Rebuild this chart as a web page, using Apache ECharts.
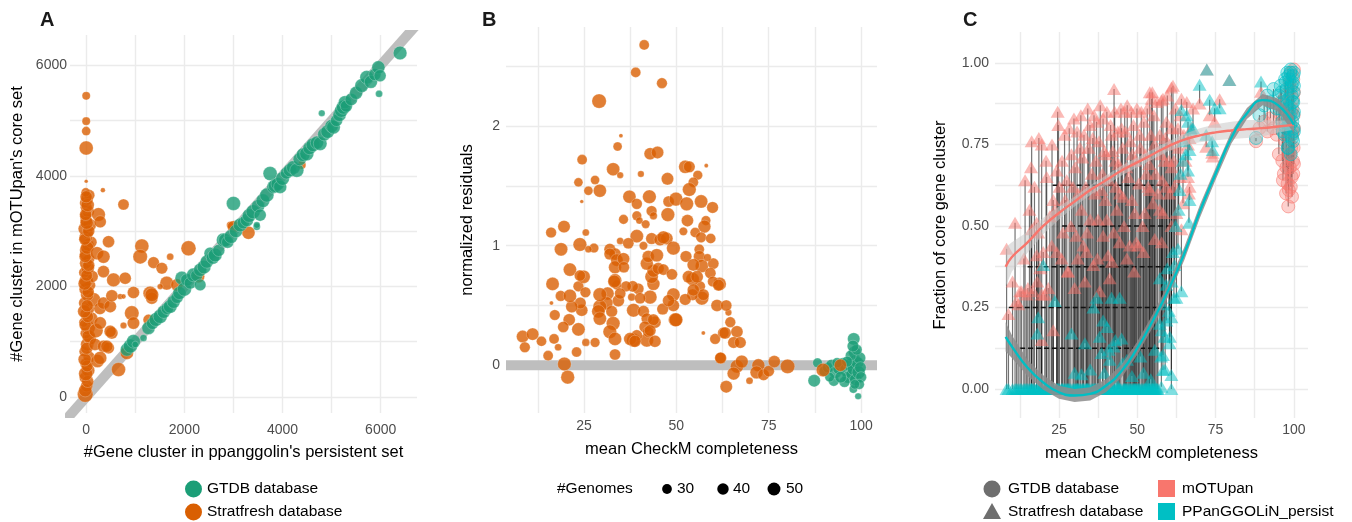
<!DOCTYPE html>
<html><head><meta charset="utf-8">
<script src="https://cdn.jsdelivr.net/npm/echarts@6/dist/echarts.min.js"></script>
<style>html,body{margin:0;padding:0;background:#fff}#c{width:1352px;height:522px}</style>
</head><body><div id="c"></div>
<script>
// ---------- Panel A : [ppanggolin persistent, mOTUpan core, #genomes] ----------
const aStratfresh = [
[-20,45,70],[10,200,44],[-30,350,36],[40,480,51],[0,600,44],[60,720,41],[-40,820,32],[20,950,51],[80,1050,44],[-10,1150,36],[40,1250,58],[-50,1350,29],[100,1420,51],[0,1500,44],[60,1600,36],[-30,1700,44],[150,1760,58],[20,1850,51],[-20,1950,44],[80,2020,36],[0,2100,58],[120,2180,44],[-40,2250,36],[30,2330,51],[-10,2420,44],[60,2500,36],[0,2580,51],[-30,2660,32],[40,2740,44],[100,2800,41],[-10,2880,51],[30,2960,36],[-40,3040,44],[70,3110,51],[0,3190,44],[-20,3270,36],[40,3350,44],[0,3430,41],[-30,3510,32],[20,3580,44],[60,3650,38],[-10,3700,26],[0,3901,6],
[-20,120,51],[30,280,44],[-10,420,58],[20,560,41],[-30,680,51],[10,880,44],[50,1100,51],[-20,1300,44],[30,1450,41],[-40,1550,51],[20,1650,44],[40,1900,44],[-30,2050,51],[10,2200,41],[50,2380,44],[-20,2540,44],[20,2700,51],[-30,2850,41],[50,3000,44],[10,3150,51],[-10,3300,44],[30,3470,51],[0,3620,44],
[200,1200,58],[220,2600,51],[250,3300,55],[180,950,44],[230,650,51],[280,1600,44],[285,3168,44],[455,2808,44],[352,2537,51],[352,2267,44],[556,2117,55],[794,2148,44],[285,1337,46],[352,1697,44],[489,1637,46],[523,1829,44],[692,1817,12],[760,1817,9],[963,1889,44],[523,1157,44],[760,1294,15],[352,915,44],[455,886,41],[285,706,51],[658,496,58],[829,796,51],[489,1186,44],[421,915,44],
[1134,2730,58],[1100,2537,61],[1372,2430,41],[1542,2328,41],[1711,2537,17],[2084,2689,65],[1640,2058,55],[1507,1997,12],[1303,1877,58],[1337,1787,44],[1337,1847,55],[929,1517,61],[963,1337,46],[1269,1397,36],[1847,2027,44],[2287,2177,46],[2933,3109,17],[3000,3078,44],[3306,2970,51],[4393,4195,22],[760,3481,38],[340,3739,9],[0,4502,58],[0,4808,26],[0,4988,22],[0,5446,22]
];
const aGTDB = [
[829,856,51],[900,920,58],[963,1006,55],[1167,1067,17],[1000,950,15],[1269,1247,51],[1350,1330,44],[1420,1400,55],[1507,1456,58],[1580,1540,51],[1650,1600,44],[1711,1637,55],[1780,1720,51],[1850,1800,44],[1949,2148,55],[1900,1880,51],[2000,1950,58],[2051,2117,46],[2120,2060,44],[2186,2207,55],[2250,2200,44],[2322,2027,41],[2322,2298,51],[2400,2350,55],[2458,2447,51],[2525,2598,44],[2580,2520,51],[2627,2568,55],[2700,2650,44],[2797,2838,58],[2831,2838,51],[2880,2800,44],[2950,2900,55],[3000,3500,58],[3050,3000,51],[3136,3109,55],[3200,3150,44],[3273,3199,51],[3320,3280,55],[3400,3350,58],[3476,3078,17],[3476,3109,15],[3500,3450,51],[3544,3289,44],[3600,3550,55],[3680,3650,58],[3747,4040,58],[3815,3799,51],[3850,3820,55],[3900,3850,51],[3951,3799,51],[4000,3950,55],[4080,4050,44],[4150,4100,51],[4220,4150,55],[4290,4100,58],[4350,4300,51],[4420,4380,55],[4493,4400,58],[4550,4500,51],[4620,4560,55],[4700,4600,51],[4766,4581,55],[4800,5132,15],[4850,4750,51],[4920,4800,55],[5000,4900,51],[5037,4880,55],[5100,5000,44],[5160,5100,51],[5200,5180,55],[5241,5240,58],[5275,5330,51],[5300,5260,44],[5400,5380,46],[5500,5500,51],[5614,5631,55],[5716,5781,55],[5800,5700,51],[5880,5830,44],[5953,5961,51],[5987,5811,44],[5967,5482,17],[6395,6221,55]
];
const aDiag = [-400, 7000];

// ---------- Panel B : [mean CheckM completeness, normalized residual, #genomes] ----------
const bStratfresh = [
[41.3,2.68,32],[39.0,2.45,32],[46.1,2.36,35],[29.1,2.21,61],[35.0,1.92,7],[34.1,1.83,26],[24.5,1.72,32],[32.9,1.64,51],[34.8,1.59,15],[40.4,1.60,15],[42.9,1.77,44],[44.9,1.78,46],[52.4,1.66,51],[53.5,1.66,41],[58.1,1.67,7],[55.8,1.59,29],[47.6,1.56,46],[54.6,1.53,32],[53.5,1.47,55],[23.5,1.53,26],[28.0,1.55,26],[29.3,1.46,51],[26.2,1.46,26],[24.4,1.37,6],[37.3,1.41,51],[39.3,1.35,36],[42.7,1.41,55],[43.3,1.29,35],[43.8,1.25,20],[47.7,1.26,55],[47.9,1.37,38],[49.9,1.39,55],[52.8,1.35,55],[56.7,1.37,52],[59.8,1.32,41],[39.3,1.25,29],[40.0,1.21,17],[41.7,1.18,23],[35.7,1.22,29],[53.0,1.21,44],[58.0,1.21,29],[57.6,1.16,49],[19.6,1.16,46],[16.1,1.11,35],[25.5,1.11,17],[39.3,1.08,52],[51.9,1.12,23],[55.1,1.11,32],[56.7,1.07,35],[59.3,1.06,32],[43.3,1.06,41],[45.6,1.05,44],[47.4,1.06,46],[34.8,1.04,17],[37.0,1.02,38],[23.9,1.01,55],[27.7,0.98,29],[18.8,0.97,52],[26.2,0.97,17],[49.2,0.98,55],[56.2,0.97,32],[41.1,1.00,23],[32.0,0.97,41],[33.4,0.93,44],[46.5,1.07,49],[52.6,0.91,41],[56.2,0.91,41],[56.9,0.83,52],[60.0,0.85,38],[58.4,0.90,20],[61.7,0.68,52],[59.2,0.77,38],[59.9,0.70,35],[56.4,0.66,35],[54.4,0.72,52],[56.9,0.56,55],[54.4,0.59,41],[52.4,0.55,41],[49.2,0.59,52],[49.2,0.50,44],[49.7,0.38,55],[46.3,0.47,41],[44.2,0.36,44],[42.9,0.57,55],[43.8,0.68,49],[43.3,0.74,52],[43.8,0.79,49],[42.0,0.85,49],[42.4,0.91,44],[44.7,0.92,52],[45.1,0.81,41],[46.5,0.80,38],[48.8,0.76,38],[39.7,0.64,38],[38.2,0.66,38],[36.4,0.66,35],[37.9,0.57,20],[40.2,0.56,38],[38.4,0.46,55],[41.1,0.45,41],[42.0,0.39,38],[41.5,0.32,41],[38.4,0.21,55],[42.0,0.21,55],[44.2,0.20,44],[39.3,0.25,38],[42.4,0.28,38],[34.3,0.54,44],[33.9,0.67,29],[33.4,0.71,52],[32.0,0.93,41],[33.9,0.88,46],[33.4,0.82,49],[35.7,0.89,46],[35.8,0.82,38],[33.2,0.70,49],[34.8,0.60,38],[31.4,0.60,49],[31.1,0.52,49],[29.3,0.49,55],[29.3,0.59,55],[32.5,0.45,41],[32.9,0.35,55],[32.0,0.28,55],[33.4,0.22,52],[28.9,0.45,52],[29.3,0.39,52],[28.0,0.19,29],[33.4,0.09,38],[23.0,0.11,32],[25.5,0.19,20],[23.5,0.30,52],[24.4,0.46,44],[24.0,0.52,41],[21.0,0.38,44],[21.7,0.49,44],[19.4,0.32,38],[17.1,0.42,35],[18.7,0.58,35],[21.2,0.58,52],[23.5,0.66,35],[24.9,0.74,52],[25.4,0.61,35],[16.5,0.68,52],[16.2,0.52,7],[21.2,0.80,52],[23.9,0.75,38],[8.4,0.24,46],[11.1,0.26,46],[9.0,0.15,35],[13.5,0.20,32],[16.9,0.22,32],[18.0,0.15,17],[15.3,0.08,32],[19.7,0.01,55],[20.6,-0.10,55],[37.5,0.22,49],[38.8,0.20,44],[43.8,0.38,41],[42.9,0.29,41],[49.9,0.38,55],[47.9,0.54,44],[54.6,0.84,46],[53.3,0.74,46],[55.6,0.74,46],[57.3,0.59,41],[54.6,0.63,44],[61.4,0.67,41],
[61.9,0.06,38],[60.5,0.22,35],[57.3,0.27,7],[64.1,0.44,15],[62.7,0.27,38],[61.0,0.50,44],[63.5,0.50,38],[64.6,0.36,35],[63.2,0.27,44],[66.4,0.28,44],[65.5,0.19,41],[67.3,0.19,41],[66.4,-0.01,52],[65.5,-0.07,49],[62.0,0.06,41],[67.7,0.03,49],[69.8,-0.13,17],[63.5,-0.18,46],[72.2,0.00,49],[71.7,-0.06,49],[73.6,-0.08,41],[75.0,-0.05,38],[76.5,0.03,44],[80.1,-0.01,61],[89.7,-0.04,55],[94.4,0.0,46]
];
const bGTDB = [
[88.2,0.02,29],[87.3,-0.13,46],[92.6,-0.13,36],[98.0,0.22,46],[98.2,0.11,44],[98.4,0.04,41],[97.9,-0.20,22],[99.2,-0.26,15],[90.0,-0.05,32],[91.0,-0.02,36],[92.0,0.0,41],[93.0,-0.06,44],[94.0,-0.03,44],[95.0,0.01,46],[96.0,-0.04,51],[96.5,-0.10,44],[97.0,0.0,51],[97.5,-0.08,46],[98.0,-0.03,51],[98.5,-0.12,44],[99.0,0.02,46],[99.3,-0.06,51],[99.6,0.06,44],[99.8,-0.02,41],[100,-0.10,36],[95.5,-0.14,36],[94.5,-0.10,41],[93.5,0.02,32],[97.2,0.08,36],[98.8,0.13,36],[97.8,0.16,41],[91.5,-0.10,29],[96.2,0.03,36],[99.5,-0.16,32],[98.3,-0.16,29]
];
const bZero = [3.9, 104.3];

// ---------- Panel C : fraction of core gene clusters ----------
const sfX = [8.3,8.9,11.0,12.0,12.6,13.1,14.7,16.1,16.3,16.3,16.8,17.9,17.9,18.4,18.6,19.0,19.5,19.5,19.5,20.0,20.5,21.1,22.7,23.2,23.2,23.7,24.3,24.3,24.6,24.8,25.9,27.0,28.0,29.0,29.5,30.5,31.7,32.2,32.8,33.3,33.8,34.9,35.5,36.5,37.0,37.5,38.6,39.1,39.1,40.0,40.7,41.2,41.8,41.9,42.6,43.0,43.5,44.4,44.4,45.0,45.5,46.0,46.5,47.6,48.1,48.5,49.2,49.7,50.3,50.8,51.3,52.4,52.9,53.5,54.0,54.0,54.8,55.5,56.6,57.2,57.2,58.2,58.2,58.7,59.3,59.3,60.3,60.4,60.9,60.9,61.4,61.7,62.5,63.0,63.5,64.1,64.1,64.6,66.2,66.5,66.7,66.2,67.2,66.7,67.8,69.9,72.0,72.2,73.1,74.1,74.7,76.3,79.4,89.5,60.9,57.7,54.6,73.9,
26.0,26.8,27.5,28.3,28.8,29.8,30.2,30.8,31.2,32.0,32.5,33.0,33.6,34.2,34.5,35.0,35.8,36.2,36.8,37.3,37.8,38.2,38.9,39.5,39.8,40.3,40.9,41.5,42.2,42.8,43.2,43.8,44.1,44.8,45.3,45.8,46.3,46.8,47.2,47.8,48.3,48.8,49.4,49.9,50.5,51.0,51.7,52.1,52.7,53.2,53.8,54.3,55.0,55.3,55.9,56.3,57.6,58.0,58.9,59.6,60.1,61.0,61.9,62.2,63.2,63.8,64.9,65.4,65.8,10.2,11.5,13.8,14.2,15.1,15.6,17.2,18.1,20.9,21.6,22.1,22.8,25.2,26.3,27.7,30.0,31.0,34.0,36.0,38.0,40.3,42.5,46.7,49.0,52.0,55.6,57.8];
const sfM = [0.43,0.23,0.51,0.26,0.30,0.30,0.29,0.68,0.76,0.49,0.30,0.51,0.41,0.48,0.77,0.37,0.75,0.29,0.15,0.42,0.29,0.65,0.44,0.58,0.18,0.55,0.67,0.42,0.85,0.81,0.40,0.58,0.36,0.72,0.62,0.47,0.74,0.55,0.44,0.33,0.42,0.81,0.66,0.60,0.82,0.52,0.61,0.83,0.47,0.72,0.41,0.34,0.78,0.39,0.92,0.70,0.55,0.45,0.60,0.80,0.59,0.85,0.68,0.44,0.85,0.72,0.54,0.45,0.44,0.78,0.85,0.54,0.66,0.62,0.91,0.61,0.91,0.75,0.60,0.78,0.55,0.89,0.54,0.70,0.82,0.62,0.60,0.75,0.68,0.50,0.93,0.70,0.54,0.80,0.65,0.49,0.89,0.57,0.65,0.60,0.62,0.75,0.80,0.77,0.86,0.876,0.743,0.98,0.84,0.713,0.82,0.889,0.948,0.912,0.925,0.886,0.89,0.725,
0.70,0.78,0.64,0.80,0.50,0.83,0.68,0.79,0.60,0.84,0.71,0.78,0.62,0.86,0.74,0.52,0.77,0.84,0.70,0.40,0.76,0.87,0.66,0.73,0.58,0.85,0.64,0.81,0.73,0.85,0.62,0.79,0.69,0.86,0.74,0.50,0.79,0.87,0.65,0.76,0.58,0.81,0.70,0.86,0.63,0.74,0.50,0.82,0.72,0.86,0.69,0.78,0.57,0.84,0.66,0.88,0.72,0.64,0.77,0.90,0.70,0.80,0.62,0.86,0.74,0.84,0.78,0.70,0.88,0.33,0.27,0.40,0.64,0.31,0.55,0.62,0.33,0.70,0.31,0.53,0.75,0.62,0.48,0.36,0.31,0.40,0.48,0.38,0.30,0.52,0.48,0.40,0.36,0.42,0.46,0.45];
const sfP = [0,0,0,0,0,0,0,0,0,0,0,0,0,0.22,0,0,0,0,0,0.38,0,0,0,0,0,0.27,0,0,0,0,0,0,0,0.17,0,0,0,0.045,0,0.14,0,0,0,0,0.28,0,0.11,0.21,0,0,0,0.09,0.28,0,0,0.15,0,0.28,0,0.155,0,0,0,0,0,0,0,0,0,0,0,0,0,0,0,0,0,0,0,0.20,0.34,0.058,0.104,0.16,0.21,0.32,0.14,0.16,0.22,0.043,0.42,0.28,0.28,0.43,0.61,0.30,0.856,0.70,0.82,0.51,0.58,0.67,0.795,0.733,0.80,0.933,0.78,0.98,0.887,0.733,0.861,0.861,0.948,0.943,0,0.007,0,0.76,
0,0,0,0,0,0,0,0,0,0,0,0,0,0,0,0.06,0,0,0,0,0,0,0,0.05,0,0,0.12,0,0,0,0.02,0,0,0,0.08,0,0,0,0,0,0.04,0,0,0,0,0.10,0,0,0,0,0,0.03,0,0,0,0,0.10,0.26,0.06,0.37,0.24,0.33,0.38,0.50,0.55,0.66,0.76,0.72,0.84,0,0,0,0,0,0,0,0.17,0,0,0,0,0,0,0,0.05,0,0,0.25,0.16,0.19,0.13,0.09,0,0.05,0.12,0.18];
const gtX = [87.9,89.0,90.5,91.5,92.5,93.5,94.5,95.2,95.8,96.3,96.8,97.2,97.5,97.8,98.0,98.3,98.5,98.7,98.9,99.1,99.3,99.5,99.6,99.7,99.8,99.9,100,100,99.0,97.0,
96.0,96.5,97.3,97.6,98.1,98.4,98.6,98.8,99.2,99.4,99.5,99.7,99.8,99.9,100,100,95.5,97.9,99.0,98.2];
const gtM = [0.76,0.80,0.82,0.79,0.83,0.80,0.78,0.72,0.84,0.70,0.66,0.76,0.60,0.88,0.63,0.72,0.82,0.68,0.92,0.74,0.65,0.86,0.79,0.70,0.95,0.84,0.98,0.80,0.62,0.81,
0.88,0.64,0.90,0.68,0.77,0.61,0.94,0.72,0.85,0.59,0.78,0.89,0.66,0.74,0.91,0.69,0.81,0.84,0.97,0.56];
const gtP = [0.77,0.84,0.87,0.90,0.88,0.92,0.86,0.90,0.93,0.82,0.88,0.95,0.80,0.92,0.74,0.96,0.86,0.84,0.97,0.78,0.90,0.82,0.94,0.76,0.88,0.80,0.97,0.85,0.72,0.78,
0.91,0.79,0.94,0.87,0.83,0.89,0.95,0.81,0.93,0.77,0.88,0.96,0.84,0.91,0.93,0.79,0.86,0.97,0.98,0.74];
const dashLevels = [0.125,0.25,0.375,0.5,0.625];
const dashFrom = [12.6,9.0,15.0,26.0,23.0];
const dashTo = [57.0,61.0,61.0,62.0,61.0];
// smoothed fits
const smX  = [8,10,15,20,25,30,35,40,45,50,55,60,65,70,75,80,85,90,95,100];
const mFit = [0.375,0.405,0.45,0.50,0.54,0.575,0.61,0.64,0.67,0.695,0.72,0.745,0.765,0.778,0.787,0.793,0.797,0.80,0.805,0.81];
const mLo  = [0.315,0.36,0.418,0.475,0.52,0.56,0.595,0.625,0.655,0.68,0.705,0.73,0.748,0.757,0.763,0.767,0.770,0.775,0.787,0.795];
const mHi  = [0.435,0.45,0.482,0.525,0.56,0.59,0.625,0.655,0.685,0.71,0.735,0.76,0.782,0.80,0.812,0.82,0.825,0.825,0.823,0.825];
const pFit = [0.16,0.13,0.065,0.02,-0.01,-0.02,-0.015,0.01,0.055,0.125,0.21,0.305,0.415,0.545,0.66,0.77,0.845,0.886,0.87,0.81];
const pLo  = [0.115,0.095,0.04,-0.002,-0.03,-0.04,-0.035,-0.01,0.035,0.105,0.19,0.285,0.395,0.525,0.642,0.752,0.828,0.870,0.850,0.785];
const pHi  = [0.205,0.165,0.09,0.042,0.01,0.0,0.005,0.03,0.075,0.145,0.23,0.325,0.435,0.565,0.678,0.788,0.862,0.905,0.890,0.835];

// tick values
const aTicks = [0,1000,2000,3000,4000,5000,6000];
const aLabels = [0,2000,4000,6000];
const bxTicks = [12.5,25,37.5,50,62.5,75,87.5,100];
const xLabels = [25,50,75,100];
const byTicks = [0,0.5,1,1.5,2,2.5];
const byLabels = [0,1,2];
const cyTicks = [0,0.125,0.25,0.375,0.5,0.625,0.75,0.875,1];
const cyLabels = [0,0.25,0.5,0.75,1];

const GREEN = '#1B9E77', ORANGE = '#D95F02', PINK = '#F8766D', TEAL = '#00BFC4';
const FONT = '"Liberation Sans", Arial, Helvetica, sans-serif';
const sizeFn = g => 2 * Math.sqrt(g) - 1.2;

function axis(grid, min, max, ticks, labels, name, gap, margin, fmt) {
  return {
    gridIndex: grid, type: 'value', min: min, max: max,
    name: name, nameLocation: 'middle', nameGap: gap,
    nameTextStyle: {color: '#000', fontSize: 16.5, fontFamily: FONT},
    axisLine: {show: false, onZero: false}, axisTick: {show: false, customValues: ticks},
    axisLabel: {customValues: labels, color: '#4D4D4D', fontSize: 14, fontFamily: FONT, margin: margin,
      formatter: fmt || (v => String(v))},
    splitLine: {show: true, lineStyle: {color: '#EBEBEB', width: 1.4}}
  };
}

const chart = echarts.init(document.getElementById('c'), null, {renderer: 'canvas'});

const dashSeries = dashLevels.map((lv, i) => ({
  type: 'line', xAxisIndex: 2, yAxisIndex: 2, symbol: 'none', silent: true, z: 3,
  data: [[dashFrom[i], lv], [dashTo[i], lv]],
  lineStyle: {color: '#111', width: 1.7, type: [5, 3]}
}));

function segRender(params, api) {
  const a = api.coord([api.value(0), api.value(1)]);
  const b = api.coord([api.value(0), api.value(2)]);
  return {type: 'line', shape: {x1: a[0], y1: a[1], x2: b[0], y2: b[1]},
    style: {stroke: 'rgba(0,0,0,0.55)', lineWidth: 1.2}};
}
function ribbon(lo, hi, color) {
  return {
    type: 'custom', xAxisIndex: 2, yAxisIndex: 2, silent: true, z: 6, clip: true,
    data: [[smX[0], lo[0]]],
    renderItem: (params, api) => {
      const up = smX.map((x, i) => api.coord([x, hi[i]]));
      const dn = smX.map((x, i) => api.coord([x, lo[i]])).reverse();
      return {type: 'polygon', shape: {points: up.concat(dn)}, style: {fill: color}};
    }
  };
}

const option = {
  animation: false,
  textStyle: {fontFamily: FONT},
  grid: [
    {left: 70, top: 35, width: 347, height: 378},
    {left: 506, top: 27, width: 371, height: 386},
    {left: 995, top: 32, width: 313, height: 386}
  ],
  xAxis: [
    axis(0, -330, 6740, aTicks, aLabels, "#Gene cluster in ppanggolin's persistent set", 31, 10),
    axis(1, 3.9, 104.3, bxTicks, xLabels, 'mean CheckM completeness', 28, 6),
    axis(2, 4.6, 104.5, bxTicks, xLabels, 'mean CheckM completeness', 27, 5)
  ],
  yAxis: [
    axis(0, -290, 6546, aTicks, aLabels, "#Gene cluster in mOTUpan's core set", 44, 3),
    axis(1, -0.4, 2.83, byTicks, byLabels, 'normalized residuals', 30, 6),
    axis(2, -0.089, 1.095, cyTicks, cyLabels, 'Fraction of core gene cluster', 46, 6, v => v.toFixed(2))
  ],
  series: [
    // Panel A
    {type: 'line', xAxisIndex: 0, yAxisIndex: 0, symbol: 'none', silent: true, z: 1,
      data: aDiag.map(v => [v, v]), lineStyle: {color: '#BEBEBE', width: 10}},
    {type: 'scatter', name: 'Stratfresh database', xAxisIndex: 0, yAxisIndex: 0, z: 2,
      data: aStratfresh, symbolSize: v => sizeFn(v[2]),
      itemStyle: {color: ORANGE, borderColor: 'rgba(255,255,255,0.5)', borderWidth: 0.6}},
    {type: 'scatter', name: 'GTDB database', xAxisIndex: 0, yAxisIndex: 0, z: 3,
      data: aGTDB, symbolSize: v => sizeFn(v[2]),
      itemStyle: {color: GREEN, borderColor: 'rgba(255,255,255,0.5)', borderWidth: 0.6}},
    // Panel B
    {type: 'line', xAxisIndex: 1, yAxisIndex: 1, symbol: 'none', silent: true, z: 1,
      data: bZero.map(v => [v, 0]), lineStyle: {color: '#BEBEBE', width: 10}},
    {type: 'scatter', xAxisIndex: 1, yAxisIndex: 1, z: 2,
      data: bGTDB, symbolSize: v => sizeFn(v[2]),
      itemStyle: {color: GREEN, borderColor: 'rgba(255,255,255,0.5)', borderWidth: 0.6}},
    {type: 'scatter', xAxisIndex: 1, yAxisIndex: 1, z: 3,
      data: bStratfresh, symbolSize: v => sizeFn(v[2]),
      itemStyle: {color: ORANGE, borderColor: 'rgba(255,255,255,0.5)', borderWidth: 0.6}},
    // Panel C
    {type: 'custom', xAxisIndex: 2, yAxisIndex: 2, silent: true, z: 2, clip: true,
      data: sfX.map((x, i) => [x, sfM[i], sfP[i]]), encode: {x: 0, y: [1, 2]}, renderItem: segRender},
    {type: 'custom', xAxisIndex: 2, yAxisIndex: 2, silent: true, z: 2, clip: true,
      data: gtX.map((x, i) => [x, gtM[i], gtP[i]]), encode: {x: 0, y: [1, 2]}, renderItem: segRender},
    ...dashSeries,
    {type: 'scatter', xAxisIndex: 2, yAxisIndex: 2, z: 4, symbol: 'triangle', symbolSize: [14, 12],
      data: sfX.map((x, i) => [x, sfM[i]]), itemStyle: {color: PINK, opacity: 0.5}},
    {type: 'scatter', xAxisIndex: 2, yAxisIndex: 2, z: 4, symbol: 'triangle', symbolSize: [14, 12],
      data: sfX.map((x, i) => [x, sfP[i]]), itemStyle: {color: TEAL, opacity: 0.5}},
    {type: 'scatter', xAxisIndex: 2, yAxisIndex: 2, z: 4, symbol: 'circle', symbolSize: 13,
      data: gtX.map((x, i) => [x, gtM[i]]), itemStyle: {color: 'rgba(248,118,109,0.42)', borderColor: 'rgba(248,118,109,0.7)', borderWidth: 1}},
    {type: 'scatter', xAxisIndex: 2, yAxisIndex: 2, z: 4, symbol: 'circle', symbolSize: 13,
      data: gtX.map((x, i) => [x, gtP[i]]), itemStyle: {color: 'rgba(0,191,196,0.35)', borderColor: 'rgba(0,191,196,0.7)', borderWidth: 1}},
    ribbon(mLo, mHi, 'rgba(200,200,200,0.55)'),
    ribbon(pLo, pHi, 'rgba(140,140,140,0.85)'),
    {type: 'line', xAxisIndex: 2, yAxisIndex: 2, symbol: 'none', smooth: true, silent: true, z: 7,
      data: smX.map((x, i) => [x, mFit[i]]), lineStyle: {color: PINK, width: 2.4}},
    {type: 'line', xAxisIndex: 2, yAxisIndex: 2, symbol: 'none', smooth: true, silent: true, z: 7,
      data: smX.map((x, i) => [x, pFit[i]]), lineStyle: {color: TEAL, width: 2.4}}
  ],
  graphic: [
    {type: 'text', x: 40, y: 20, style: {text: 'A', font: 'bold 20px ' + FONT, fill: '#1a1a1a', verticalAlign: 'middle', textVerticalAlign: 'middle'}},
    {type: 'text', x: 482, y: 20, style: {text: 'B', font: 'bold 20px ' + FONT, fill: '#1a1a1a', verticalAlign: 'middle', textVerticalAlign: 'middle'}},
    {type: 'text', x: 963, y: 20, style: {text: 'C', font: 'bold 20px ' + FONT, fill: '#1a1a1a', verticalAlign: 'middle', textVerticalAlign: 'middle'}},
    // legend A
    {type: 'circle', shape: {cx: 193.5, cy: 489, r: 8.5}, style: {fill: GREEN}},
    {type: 'circle', shape: {cx: 193.5, cy: 512, r: 8.5}, style: {fill: ORANGE}},
    {type: 'text', x: 207, y: 489, style: {text: 'GTDB database', font: '15.5px ' + FONT, fill: '#000', verticalAlign: 'middle', textVerticalAlign: 'middle'}},
    {type: 'text', x: 207, y: 512, style: {text: 'Stratfresh database', font: '15.5px ' + FONT, fill: '#000', verticalAlign: 'middle', textVerticalAlign: 'middle'}},
    // legend B
    {type: 'text', x: 557, y: 489, style: {text: '#Genomes', font: '15.5px ' + FONT, fill: '#000', verticalAlign: 'middle', textVerticalAlign: 'middle'}},
    {type: 'circle', shape: {cx: 667, cy: 489, r: sizeFn(30) / 2}, style: {fill: '#000'}},
    {type: 'circle', shape: {cx: 723, cy: 489, r: sizeFn(40) / 2}, style: {fill: '#000'}},
    {type: 'circle', shape: {cx: 774, cy: 489, r: sizeFn(50) / 2}, style: {fill: '#000'}},
    {type: 'text', x: 677, y: 489, style: {text: '30', font: '15.5px ' + FONT, fill: '#000', verticalAlign: 'middle', textVerticalAlign: 'middle'}},
    {type: 'text', x: 733, y: 489, style: {text: '40', font: '15.5px ' + FONT, fill: '#000', verticalAlign: 'middle', textVerticalAlign: 'middle'}},
    {type: 'text', x: 786, y: 489, style: {text: '50', font: '15.5px ' + FONT, fill: '#000', verticalAlign: 'middle', textVerticalAlign: 'middle'}},
    // legend C
    {type: 'circle', shape: {cx: 992, cy: 489, r: 8.5}, style: {fill: '#6E6E6E'}},
    {type: 'polygon', shape: {points: [[992, 503], [1001, 519], [983, 519]]}, style: {fill: '#6E6E6E'}},
    {type: 'text', x: 1008, y: 489, style: {text: 'GTDB database', font: '15.5px ' + FONT, fill: '#000', verticalAlign: 'middle', textVerticalAlign: 'middle'}},
    {type: 'text', x: 1008, y: 512, style: {text: 'Stratfresh database', font: '15.5px ' + FONT, fill: '#000', verticalAlign: 'middle', textVerticalAlign: 'middle'}},
    {type: 'rect', shape: {x: 1158, y: 480, width: 17, height: 17}, style: {fill: PINK}},
    {type: 'rect', shape: {x: 1158, y: 503, width: 17, height: 17}, style: {fill: TEAL}},
    {type: 'text', x: 1182, y: 489, style: {text: 'mOTUpan', font: '15.5px ' + FONT, fill: '#000', verticalAlign: 'middle', textVerticalAlign: 'middle'}},
    {type: 'text', x: 1182, y: 512, style: {text: 'PPanGGOLiN_persist', font: '15.5px ' + FONT, fill: '#000', verticalAlign: 'middle', textVerticalAlign: 'middle'}}
  ]
};
chart.setOption(option);
</script></body></html>
